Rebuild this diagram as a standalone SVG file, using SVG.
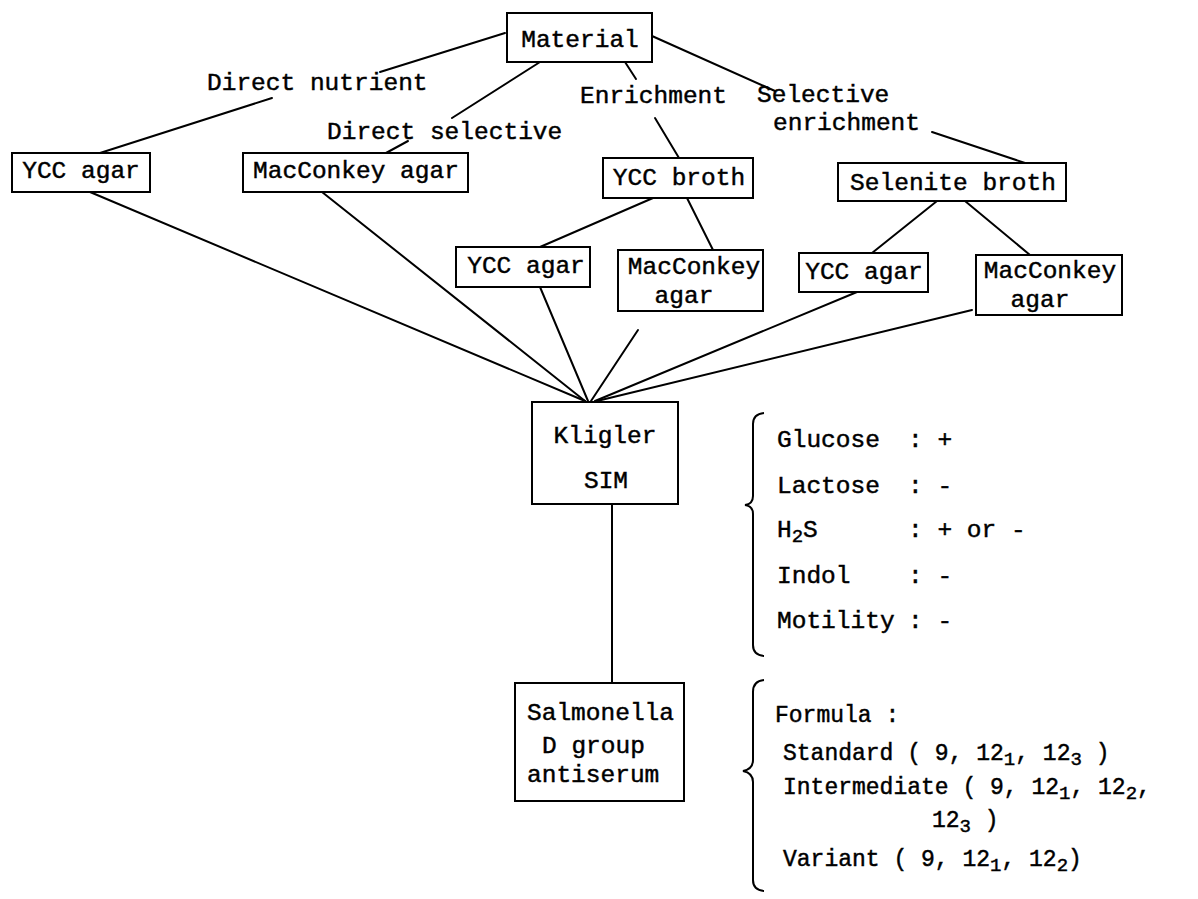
<svg xmlns="http://www.w3.org/2000/svg" width="1198" height="899" viewBox="0 0 1198 899">
<style>
  .box { fill: #fff; stroke: #000; stroke-width: 2; }
  .t { font-family: "Liberation Mono", "DejaVu Sans Mono", monospace; font-size: 24.5px; fill: #000; stroke: #000; stroke-width: 0.45; }
  .t2 { font-family: "Liberation Mono", "DejaVu Sans Mono", monospace; font-size: 23px; fill: #000; stroke: #000; stroke-width: 0.45; }
  .c { text-anchor: middle; }
  .ln { stroke: #000; stroke-width: 2; fill: none; stroke-linecap: round; }
  .brace { stroke: #000; stroke-width: 2; fill: none; }
</style>
<rect width="1198" height="899" fill="#fff"/>
<g id="connectors">
  <line class="ln" x1="505" y1="33" x2="380" y2="72"/>
  <line class="ln" x1="272" y1="98" x2="100" y2="153"/>
  <line class="ln" x1="540" y1="62" x2="452" y2="118"/>
  <line class="ln" x1="408" y1="141" x2="386" y2="153"/>
  <line class="ln" x1="625" y1="62" x2="636" y2="79"/>
  <line class="ln" x1="655" y1="118" x2="679" y2="158"/>
  <line class="ln" x1="652" y1="36" x2="775" y2="91"/>
  <line class="ln" x1="932" y1="132" x2="1025" y2="163"/>
  <line class="ln" x1="653" y1="198" x2="540" y2="247"/>
  <line class="ln" x1="687" y1="198" x2="713" y2="250"/>
  <line class="ln" x1="937" y1="201" x2="872" y2="253"/>
  <line class="ln" x1="965" y1="201" x2="1030" y2="255"/>
  <line class="ln" x1="90" y1="192" x2="585" y2="401"/>
  <line class="ln" x1="322" y1="192" x2="585" y2="401"/>
  <line class="ln" x1="540" y1="287" x2="588" y2="401"/>
  <line class="ln" x1="638" y1="330" x2="591" y2="401"/>
  <line class="ln" x1="857" y1="292" x2="595" y2="401"/>
  <line class="ln" x1="972" y1="310" x2="597" y2="401"/>
  <line class="ln" x1="612" y1="504" x2="612" y2="683"/>
</g>
<g id="edge-labels">
  <text class="t" x="207" y="90">Direct nutrient</text>
  <text class="t" x="327" y="139">Direct selective</text>
  <text class="t" x="580" y="103">Enrichment</text>
  <text class="t" x="757" y="102">Selective</text>
  <text class="t" x="773" y="130">enrichment</text>
</g>
<g id="material">
  <rect class="box" x="507" y="13" width="145" height="49"/>
  <text class="t c" x="580" y="47">Material</text>
</g>
<g id="ycc-agar-1">
  <rect class="box" x="12" y="153" width="138" height="39"/>
  <text class="t c" x="81" y="178">YCC agar</text>
</g>
<g id="macconkey-agar-1">
  <rect class="box" x="243" y="153" width="225" height="39"/>
  <text class="t c" x="356" y="178">MacConkey agar</text>
</g>
<g id="ycc-broth">
  <rect class="box" x="603" y="158" width="150" height="40"/>
  <text class="t c" x="679" y="185">YCC broth</text>
</g>
<g id="selenite-broth">
  <rect class="box" x="838" y="163" width="228" height="38"/>
  <text class="t c" x="953" y="190">Selenite broth</text>
</g>
<g id="ycc-agar-2">
  <rect class="box" x="456" y="247" width="134" height="40"/>
  <text class="t c" x="526" y="273">YCC agar</text>
</g>
<g id="macconkey-agar-2">
  <rect class="box" x="618" y="250" width="145" height="61"/>
  <text class="t c" x="694" y="274">MacConkey</text>
  <text class="t c" x="684" y="303">agar</text>
</g>
<g id="ycc-agar-3">
  <rect class="box" x="799" y="253" width="129" height="39"/>
  <text class="t c" x="864" y="279">YCC agar</text>
</g>
<g id="macconkey-agar-3">
  <rect class="box" x="976" y="255" width="146" height="60"/>
  <text class="t c" x="1050" y="278">MacConkey</text>
  <text class="t c" x="1040" y="307">agar</text>
</g>
<g id="kligler-sim">
  <rect class="box" x="532" y="402" width="146" height="102"/>
  <text class="t c" x="605" y="443">Kligler</text>
  <text class="t c" x="606" y="488">SIM</text>
</g>
<g id="salmonella">
  <rect class="box" x="515" y="683" width="169" height="118"/>
  <text class="t" x="527" y="720">Salmonella</text>
  <text class="t" x="542" y="753">D group</text>
  <text class="t" x="527" y="782">antiserum</text>
</g>
<g id="biochemical-results">
  <path class="brace" d="M 764 413 Q 753 414 753 424 L 753 496 Q 753 504 745 505 Q 753 506 753 514 L 753 645 Q 753 655 764 656"/>
  <text class="t" x="777" y="447">Glucose</text>
  <text class="t" x="908" y="447">: +</text>
  <text class="t" x="777" y="493">Lactose</text>
  <text class="t" x="908" y="493">: -</text>
  <text class="t" x="777" y="537">H<tspan font-size="19" dy="5">2</tspan><tspan dy="-5">S</tspan></text>
  <text class="t" x="908" y="537">: + or -</text>
  <text class="t" x="777" y="583">Indol</text>
  <text class="t" x="908" y="583">: -</text>
  <text class="t" x="777" y="628">Motility</text>
  <text class="t" x="908" y="628">: -</text>
</g>
<g id="serology">
  <path class="brace" d="M 764 680 Q 753 681 753 692 L 753 760 Q 753 769 743 771 Q 753 773 753 782 L 753 880 Q 753 890 764 891"/>
  <text class="t2" x="775" y="722">Formula :</text>
  <text class="t2" x="783" y="760">Standard ( 9, 12<tspan font-size="19" dy="5">1</tspan><tspan dy="-5">, 12</tspan><tspan font-size="19" dy="5">3</tspan><tspan dy="-5"> )</tspan></text>
  <text class="t2" x="783" y="794">Intermediate ( 9, 12<tspan font-size="19" dy="5">1</tspan><tspan dy="-5">, 12</tspan><tspan font-size="19" dy="5">2</tspan><tspan dy="-5">,</tspan></text>
  <text class="t2" x="932" y="827">12<tspan font-size="19" dy="5">3</tspan><tspan dy="-5"> )</tspan></text>
  <text class="t2" x="783" y="866">Variant ( 9, 12<tspan font-size="19" dy="5">1</tspan><tspan dy="-5">, 12</tspan><tspan font-size="19" dy="5">2</tspan><tspan dy="-5">)</tspan></text>
</g>
</svg>
